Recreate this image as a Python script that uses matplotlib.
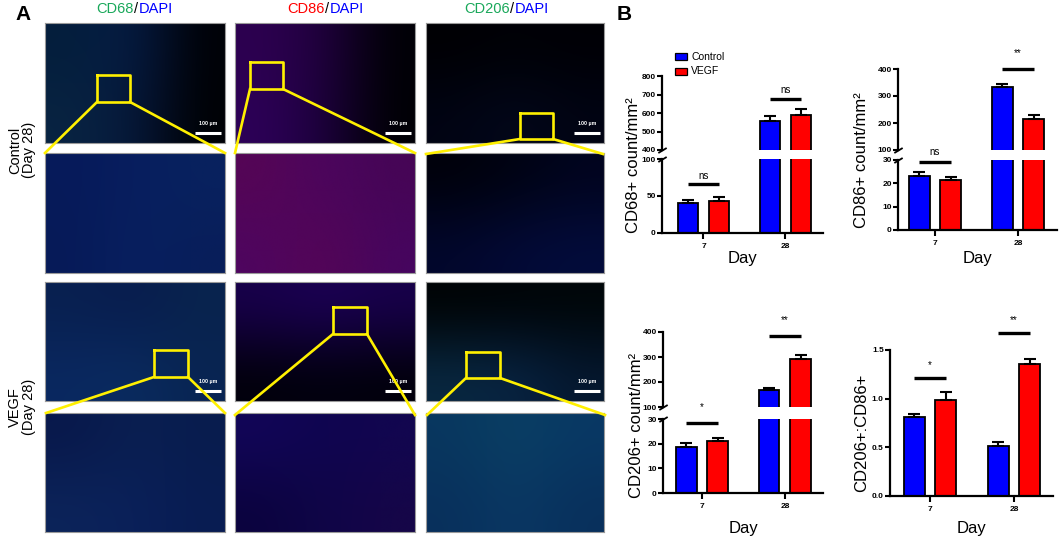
import numpy as np
import matplotlib
matplotlib.use("Agg")
import matplotlib.pyplot as plt
from matplotlib.lines import Line2D
from matplotlib.patches import Rectangle
from matplotlib.font_manager import FontProperties

# ---------------- data ----------------
days = ["7", "28"]
groups = ["Control", "VEGF"]

cd68_control = [40, 557]
cd68_control_err = [4, 27]
cd68_vegf = [43.5, 587]
cd68_vegf_err = [5, 36]
cd68_sig = ["ns", "ns"]

cd86_control = [23.1, 332]
cd86_control_err = [1.9, 12]
cd86_vegf = [21.4, 215]
cd86_vegf_err = [1.4, 15]
cd86_sig = ["ns", "**"]

cd206_control = [18.5, 169]
cd206_control_err = [1.6, 8]
cd206_vegf = [21.2, 293]
cd206_vegf_err = [1.1, 16]
cd206_sig = ["*", "**"]

ratio_control = [0.81, 0.51]
ratio_control_err = [0.03, 0.048]
ratio_vegf = [0.99, 1.36]
ratio_vegf_err = [0.075, 0.05]
ratio_sig = ["*", "**"]

col_titles = [("CD68", "#19a85a"), ("CD86", "#ff0000"), ("CD206", "#19a85a")]
row_titles = ["Control\n(Day 28)", "VEGF\n(Day 28)"]

# ---------------- fonts / helpers ----------------
W, H = 1059, 537
plt.rcParams["font.family"] = ["Liberation Sans", "DejaVu Sans"]


def tfp(size, bold=True):
    return FontProperties(family=["Liberation Sans", "DejaVu Sans"],
                          weight="bold" if bold else "normal", size=size)


fig = plt.figure(figsize=(W / 100, H / 100), dpi=100)


def fbox(x0, y0, x1, y1):
    return [x0 / W, 1 - y1 / H, (x1 - x0) / W, (y1 - y0) / H]


def fp(x, y):
    return (x / W, 1 - y / H)


BLUE = "#0000ff"
RED = "#ff0000"
YEL = "#fff000"

# ---------------- panel A: fluorescence panels (schematic tints) ----------------
cols_x = [(45, 225), (235, 415), (426, 604)]
rows_y = [(23, 143), (153, 273), (282, 401), (413, 532)]

tints = {
    (0, 0): [[(4, 30, 60), (6, 28, 70), (0, 1, 6)], [(8, 36, 66), (6, 24, 60), (0, 1, 4)]],
    (0, 1): [[(45, 0, 80), (32, 0, 62), (0, 0, 5)], [(45, 0, 88), (28, 0, 60), (0, 0, 4)]],
    (0, 2): [[(0, 0, 3), (0, 1, 6), (0, 0, 5)], [(1, 4, 20), (3, 8, 28), (1, 4, 20)]],
    (1, 0): [[(6, 26, 90), (8, 30, 95), (8, 34, 95)], [(6, 26, 88), (8, 32, 96), (8, 30, 90)]],
    (1, 1): [[(85, 5, 85), (75, 5, 95), (70, 5, 85)], [(78, 5, 95), (85, 5, 85), (70, 5, 95)]],
    (1, 2): [[(0, 1, 10), (0, 3, 18), (1, 4, 30)], [(2, 7, 45), (3, 10, 55), (3, 12, 60)]],
    (2, 0): [[(8, 32, 80), (8, 28, 78), (8, 36, 78)], [(10, 40, 96), (10, 44, 96), (8, 36, 82)]],
    (2, 1): [[(24, 0, 75), (28, 0, 85), (24, 0, 75)], [(1, 0, 10), (1, 0, 14), (1, 0, 10)]],
    (2, 2): [[(0, 3, 4), (0, 4, 7), (0, 6, 8)], [(8, 40, 65), (8, 36, 68), (5, 24, 48)]],
    (3, 0): [[(8, 24, 75), (10, 32, 82), (8, 28, 78)], [(12, 36, 90), (10, 32, 90), (8, 28, 82)]],
    (3, 1): [[(18, 6, 88), (15, 6, 80), (18, 6, 80)], [(11, 3, 62), (15, 6, 72), (22, 6, 72)]],
    (3, 2): [[(8, 55, 95), (10, 64, 100), (8, 56, 100)], [(8, 48, 92), (10, 56, 100), (8, 48, 92)]],
}

for (r, c), grid in tints.items():
    x0, x1 = cols_x[c]
    y0, y1 = rows_y[r]
    ax = fig.add_axes(fbox(x0, y0, x1, y1))
    img = np.array(grid, dtype=float) / 255.0
    ax.imshow(img, aspect="auto", interpolation="bicubic", extent=[0, 1, 0, 1])
    ax.set_xlim(0, 1)
    ax.set_ylim(0, 1)
    ax.set_xticks([])
    ax.set_yticks([])
    for s in ax.spines.values():
        s.set_color("#9a9a9a")
        s.set_linewidth(0.8)
    if r in (0, 2):
        pw = x1 - x0
        ph = y1 - y0
        bx1 = 1 - 4 / pw
        bx0 = 1 - 30 / pw
        by = 10 / ph
        ax.plot([bx0, bx1], [by, by], color="white", lw=2.2, solid_capstyle="butt")
        ax.text((bx0 + bx1) / 2, by + 9 / ph, "100 µm", color="white", ha="center", va="center",
                fontproperties=tfp(3.8, True))

# yellow boxes and connector lines
zoom_boxes = [
    ((97, 75, 130, 102), (45, 153), (225, 153)),
    ((250, 62, 283, 89), (235, 153), (415, 153)),
    ((520, 113, 553, 139), (426, 154), (603, 154)),
    ((154, 350, 188, 377), (46, 413), (225, 413)),
    ((333, 307, 367, 334), (235, 415), (415, 415)),
    ((466, 352, 500, 378), (427, 415), (605, 415)),
]
for (bx0, by0, bx1, by1), pl, pr in zoom_boxes:
    xs = [bx0, bx1, bx1, bx0, bx0]
    ys = [by0, by0, by1, by1, by0]
    fig.add_artist(Line2D([x / W for x in xs], [1 - y / H for y in ys], color=YEL, lw=1.9,
                          transform=fig.transFigure, zorder=10))
    fig.add_artist(Line2D([bx0 / W, pl[0] / W], [1 - by1 / H, 1 - pl[1] / H], color=YEL, lw=1.9,
                          transform=fig.transFigure, zorder=10))
    fig.add_artist(Line2D([bx1 / W, pr[0] / W], [1 - by1 / H, 1 - pr[1] / H], color=YEL, lw=1.9,
                          transform=fig.transFigure, zorder=10))

# column titles
slash_x = [136.5, 327, 512]
for (name, colr), sx in zip(col_titles, slash_x):
    fig.text(*fp(sx, 9), "/", ha="center", va="center", fontsize=10.5, color="black")
    fig.text(*fp(sx - 2.5, 9), name, ha="right", va="center", fontsize=10.5, color=colr)
    fig.text(*fp(sx + 2.5, 9), "DAPI", ha="left", va="center", fontsize=10.5, color=BLUE)

fig.text(*fp(22, 150), row_titles[0], rotation=90, ha="center", va="center", fontsize=10.5,
         linespacing=1.0, multialignment="center")
fig.text(*fp(22, 407), row_titles[1], rotation=90, ha="center", va="center", fontsize=10.5,
         linespacing=1.0, multialignment="center")

fig.text(*fp(23, 15), "A", fontsize=15, fontweight="bold", ha="center", va="center")
fig.text(*fp(624, 15), "B", fontsize=15, fontweight="bold", ha="center", va="center")

# ---------------- panel B: bar charts ----------------
OFF = 0.19
BW = 0.25
xpos = np.arange(len(days))
TICK_FP = tfp(6.0, True)


def style_axis(ax, bottom=True):
    ax.spines["right"].set_visible(False)
    ax.spines["top"].set_visible(False)
    ax.spines["left"].set_linewidth(1.6)
    ax.spines["bottom"].set_linewidth(1.6)
    ax.patch.set_alpha(0)
    ax.tick_params(axis="y", direction="out", length=3.5, width=1.5, pad=1.0)
    if bottom:
        ax.tick_params(axis="x", direction="out", length=4.5, width=1.5, pad=3)
        ax.set_xticks(xpos)
        ax.set_xticklabels(days)
        for lab in ax.get_xticklabels():
            lab.set_fontproperties(TICK_FP)
    else:
        ax.spines["bottom"].set_visible(False)
        ax.set_xticks([])
    for lab in ax.get_yticklabels():
        lab.set_fontproperties(TICK_FP)


def draw_bars(ax, ctrl, ctrl_err, vegf, vegf_err):
    ax.bar(xpos - OFF, ctrl, BW, color=BLUE, edgecolor="black", linewidth=1.3, zorder=2)
    ax.bar(xpos + OFF, vegf, BW, color=RED, edgecolor="black", linewidth=1.3, zorder=2)
    ax.errorbar(xpos - OFF, ctrl, yerr=[[0] * len(ctrl), ctrl_err], fmt="none", ecolor="black",
                elinewidth=1.5, capsize=4.5, capthick=1.5, zorder=3)
    ax.errorbar(xpos + OFF, vegf, yerr=[[0] * len(vegf), vegf_err], fmt="none", ecolor="black",
                elinewidth=1.5, capsize=4.5, capthick=1.5, zorder=3)


def sig(ax, i, label, yline, ytext):
    ax.plot([i - OFF, i + OFF], [yline, yline], color="black", lw=2.4, clip_on=False,
            solid_capstyle="butt", zorder=4)
    ax.text(i, ytext, label, ha="center", va="center", clip_on=False,
            fontproperties=tfp(7.0, False))


def break_marks(ax_lo, ax_hi):
    d = 0.6
    kw = dict(marker=[(-1, -d), (1, d)], markersize=6, linestyle="none", color="k", mec="k",
              mew=1.3, clip_on=False)
    ax_lo.plot([0], [1], transform=ax_lo.transAxes, **kw)
    ax_hi.plot([0], [0], transform=ax_hi.transAxes, **kw)


def broken_chart(x0, x1, lo_y, hi_y, lo_lim, hi_lim, lo_ticks, hi_ticks, xlim,
                 ctrl, ctrl_err, vegf, vegf_err, sigs, sig_pos, ylabel, ylab_pos, day_y):
    ax_lo = fig.add_axes(fbox(x0, lo_y[0], x1, lo_y[1]))
    ax_hi = fig.add_axes(fbox(x0, hi_y[0], x1, hi_y[1]))
    for ax in (ax_lo, ax_hi):
        draw_bars(ax, ctrl, ctrl_err, vegf, vegf_err)
        ax.set_xlim(*xlim)
    ax_lo.set_ylim(*lo_lim)
    ax_hi.set_ylim(*hi_lim)
    ax_lo.set_yticks(lo_ticks)
    ax_hi.set_yticks(hi_ticks)
    style_axis(ax_lo, bottom=True)
    style_axis(ax_hi, bottom=False)
    break_marks(ax_lo, ax_hi)
    for i, (lab, (which, yl, yt)) in enumerate(zip(sigs, sig_pos)):
        sig(ax_lo if which == "lo" else ax_hi, i, lab, yl, yt)
    fig.text(*fp(*ylab_pos), ylabel, rotation=90, ha="center", va="center", fontsize=12)
    fig.text(*fp((x0 + x1) / 2, day_y), "Day", ha="center", va="center", fontsize=12)
    return ax_lo, ax_hi


# Chart 1: CD68
broken_chart(662, 823, (159, 233), (76, 150), (0, 100), (400, 800),
             [0, 50, 100], [400, 500, 600, 700, 800], (-0.506, 1.458),
             cd68_control, cd68_control_err, cd68_vegf, cd68_vegf_err,
             cd68_sig, [("lo", 66, 77), ("hi", 677, 724)],
             "CD68+ count/mm²", (634, 165), 258)

# legend for chart 1
for (lab, colr, yy) in [("Control", BLUE, 56.5), ("VEGF", RED, 71.5)]:
    fig.add_artist(Rectangle(fp(675, yy + 3.5), 12 / W, 7 / H, facecolor=colr, edgecolor="black",
                             lw=0.9, transform=fig.transFigure))
    fig.text(*fp(691, yy), lab, ha="left", va="center", fontproperties=tfp(7.5, False))

# Chart 2: CD86
broken_chart(898, 1057, (160, 230), (69, 150), (0, 30), (100, 400),
             [0, 10, 20, 30], [100, 200, 300, 400], (-0.446, 1.47),
             cd86_control, cd86_control_err, cd86_vegf, cd86_vegf_err,
             cd86_sig, [("lo", 29.1, 33.6), ("hi", 400, 459)],
             "CD86+ count/mm²", (862, 160), 258)

# Chart 3: CD206
broken_chart(663, 823, (419, 493), (332, 407), (0, 30), (100, 400),
             [0, 10, 20, 30], [100, 200, 300, 400], (-0.47, 1.46),
             cd206_control, cd206_control_err, cd206_vegf, cd206_vegf_err,
             cd206_sig, [("lo", 28.4, 34.9), ("hi", 384, 448)],
             "CD206+ count/mm²", (636, 425), 528)

# Chart 4: ratio
ax4 = fig.add_axes(fbox(890, 350, 1053, 496))
draw_bars(ax4, ratio_control, ratio_control_err, ratio_vegf, ratio_vegf_err)
ax4.set_xlim(-0.476, 1.464)
ax4.set_ylim(0, 1.5)
ax4.set_yticks([0.0, 0.5, 1.0, 1.5])
ax4.set_yticklabels(["0.0", "0.5", "1.0", "1.5"])
style_axis(ax4, bottom=True)
sig(ax4, 0, ratio_sig[0], 1.21, 1.35)
sig(ax4, 1, ratio_sig[1], 1.67, 1.81)
fig.text(*fp(862, 433), "CD206+:CD86+", rotation=90, ha="center", va="center", fontsize=12)
fig.text(*fp((890 + 1053) / 2, 528), "Day", ha="center", va="center", fontsize=12)

fig.savefig("out.png", dpi=100)
